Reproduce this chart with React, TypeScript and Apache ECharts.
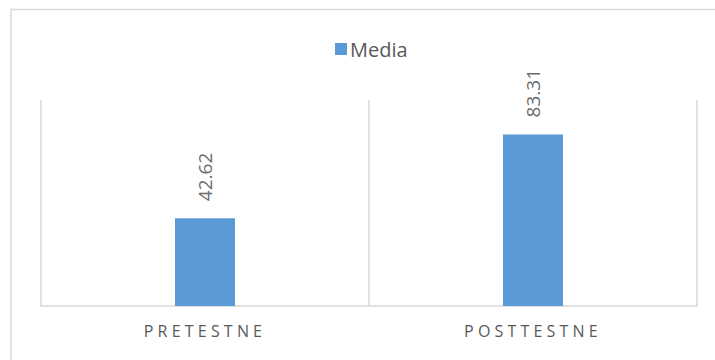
import React, { useEffect, useRef } from "react";
import * as echarts from "echarts";

const categories = ["PRETESTNE", "POSTTESTNE"];
const seriesName = "Media";
const values = [42.62, 83.31];
const labelTexts = ["42.62", "83.31"];

export default function App() {
  const ref = useRef<HTMLDivElement>(null);

  useEffect(() => {
    if (!ref.current) return;
    const chart = echarts.init(ref.current, undefined, { renderer: "svg" });
    const font = "'Open Sans', 'Liberation Sans', sans-serif";

    const spaceLabels = () => {
      const el = ref.current;
      if (!el) return;
      el.querySelectorAll("text").forEach((t) => {
        if (categories.includes((t.textContent || "").trim())) {
          t.setAttribute("letter-spacing", "4.2px");
        }
      });
    };

    chart.setOption({
      animation: false,
      backgroundColor: "#ffffff",
      textStyle: { fontFamily: font },
      graphic: [
        {
          type: "rect",
          shape: { x: 11, y: 9.5, width: 900, height: 600 },
          style: { fill: "none", stroke: "#d9d9d9", lineWidth: 1.5 },
          silent: true,
        },
      ],
      legend: {
        data: [seriesName],
        left: 330,
        top: 34,
        icon: "rect",
        itemWidth: 12,
        itemHeight: 12,
        itemGap: 6,
        textStyle: { color: "#595959", fontSize: 20, fontFamily: font, padding: [0, 0, 0, -2] },
      },
      grid: { left: 41, right: 18, top: 100, bottom: 54, containLabel: false },
      xAxis: {
        type: "category",
        data: categories,
        boundaryGap: true,
        axisLine: { show: true, lineStyle: { color: "#d9d9d9", width: 1.5 } },
        axisTick: { show: false },
        splitLine: { show: true, lineStyle: { color: "#d9d9d9", width: 1.5 } },
        axisLabel: { color: "#595959", fontSize: 16, margin: 17, fontFamily: font },
      },
      yAxis: {
        type: "value",
        min: 0,
        max: 100,
        show: false,
        splitLine: { show: false },
      },
      series: [
        {
          name: seriesName,
          type: "bar",
          data: values,
          barWidth: 60,
          itemStyle: { color: "#5b9bd5" },
          label: {
            show: true,
            position: "top",
            rotate: 90,
            align: "left",
            verticalAlign: "middle",
            distance: 17,
            color: "#6b6b6b",
            fontSize: 19,
            fontFamily: font,
            formatter: (p: any) => labelTexts[p.dataIndex],
          },
        },
      ],
    });
    spaceLabels();
    chart.on("finished", spaceLabels);

    return () => {
      chart.dispose();
    };
  }, []);

  return (
    <div
      ref={ref}
      style={{ position: "fixed", left: 0, top: 0, width: 715, height: 360 }}
    />
  );
}
